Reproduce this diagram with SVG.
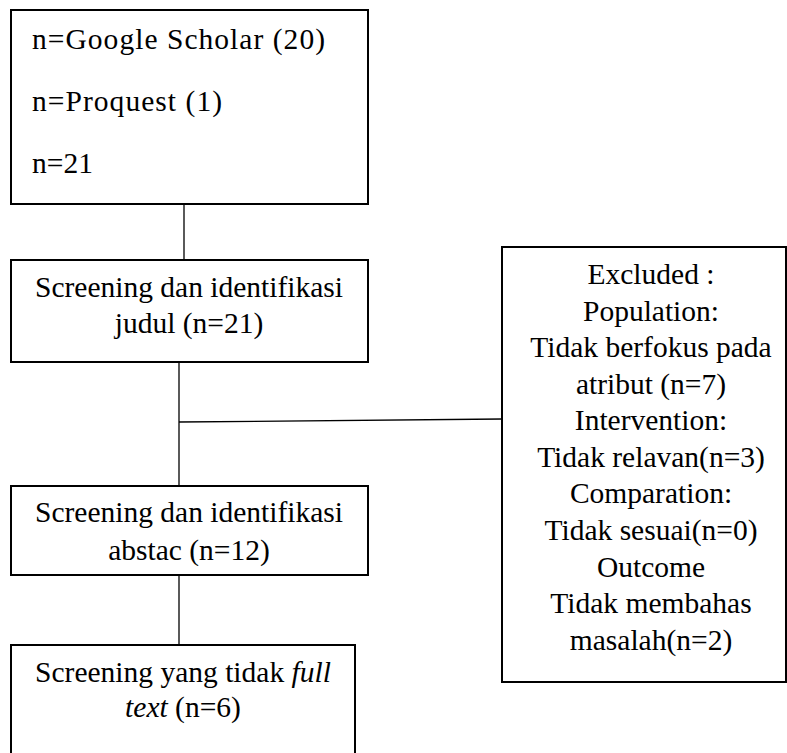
<svg xmlns="http://www.w3.org/2000/svg" width="787" height="753" viewBox="0 0 787 753">
<style>
.box{fill:#fff;stroke:#000;stroke-width:2}
.t{font-family:'Liberation Serif','Tinos','Times New Roman','DejaVu Serif',serif;font-size:29.5px;fill:#000}
.c{text-anchor:middle}
.conn line{stroke:#000;stroke-width:1.3}
</style>
<rect width="787" height="753" fill="#fff"/>
<g class="conn" id="connectors">
<line x1="184" y1="204" x2="184" y2="260"/>
<line x1="179" y1="362" x2="179" y2="486"/>
<line x1="179" y1="422" x2="502" y2="419"/>
<line x1="179" y1="575" x2="179" y2="645"/>
</g>
<g id="n-sources">
<rect class="box" x="11" y="10" width="357" height="194"/>
<text class="t" x="32" y="49" font-size="31" textLength="293" lengthAdjust="spacing">n=Google Scholar (20)</text>
<text class="t" x="32" y="111" font-size="31" textLength="190" lengthAdjust="spacing">n=Proquest (1)</text>
<text class="t" x="32" y="173" font-size="30">n=21</text>
</g>
<g id="n-judul">
<rect class="box" x="11" y="260" width="357" height="102"/>
<text class="t c" x="189" y="297">Screening dan identifikasi</text>
<text class="t c" x="189" y="333">judul (n=21)</text>
</g>
<g id="n-abstrak">
<rect class="box" x="11" y="486" width="357" height="89"/>
<text class="t c" x="189" y="522">Screening dan identifikasi</text>
<text class="t c" x="189" y="560">abstac (n=12)</text>
</g>
<g id="n-fulltext">
<rect class="box" x="11" y="645" width="344" height="120"/>
<text class="t c" x="183" y="682">Screening yang tidak <tspan font-style="italic">full</tspan></text>
<text class="t c" x="183" y="717"><tspan font-style="italic">text</tspan> (n=6)</text>
</g>
<g id="n-excluded">
<rect class="box" x="502" y="247" width="284" height="435"/>
<text class="t c" x="651" y="284">Excluded :</text>
<text class="t c" x="651" y="320.5">Population:</text>
<text class="t c" x="651" y="357">Tidak berfokus pada</text>
<text class="t c" x="651" y="393.5">atribut (n=7)</text>
<text class="t c" x="651" y="430">Intervention:</text>
<text class="t c" x="651" y="466.5">Tidak relavan(n=3)</text>
<text class="t c" x="651" y="503">Comparation:</text>
<text class="t c" x="651" y="540">Tidak sesuai(n=0)</text>
<text class="t c" x="651" y="576.5">Outcome</text>
<text class="t c" x="651" y="613">Tidak membahas</text>
<text class="t c" x="651" y="650">masalah(n=2)</text>
</g>
</svg>
